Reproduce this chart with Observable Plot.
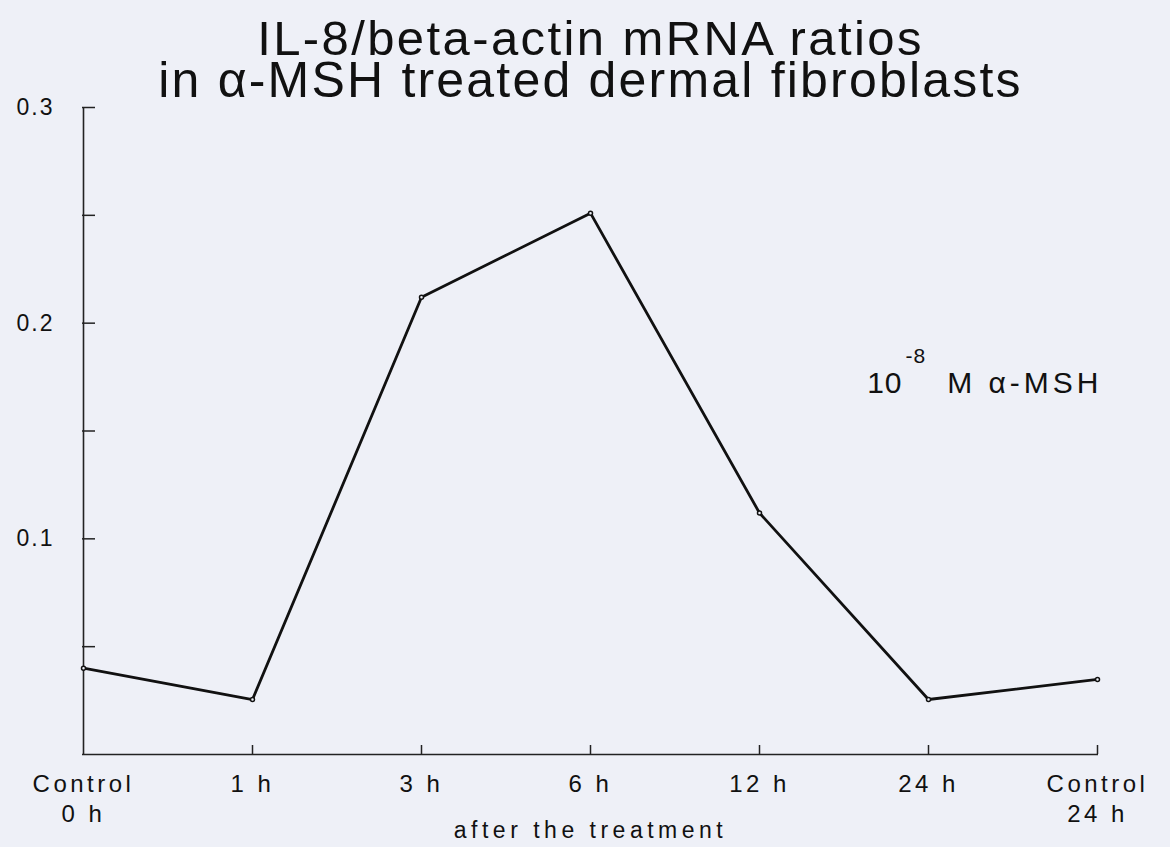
<!DOCTYPE html>
<html>
<head>
<meta charset="utf-8">
<script src="https://cdn.jsdelivr.net/npm/d3@7"></script>
<script src="https://cdn.jsdelivr.net/npm/@observablehq/plot@0.6"></script>
<style>
  html, body { margin: 0; padding: 0; background: #eef0f7; }
  #chart svg { display: block; background: #eef0f7; }
  g[aria-label="x-axis tick label"] text { letter-spacing: 3.5px; }
  g[aria-label="y-axis tick label"] text { letter-spacing: 2px; }
</style>
</head>
<body>
<div id="chart"></div>
<script>
const categories = ["Control\n0 h", "1 h", "3 h", "6 h", "12 h", "24 h", "Control\n24 h"];
const ratios = [0.040, 0.0255, 0.212, 0.251, 0.112, 0.0255, 0.0348];
const yTicks = [0.05, 0.1, 0.15, 0.2, 0.25, 0.3];
const yLabels = [0.1, 0.2, 0.3];
const titleLines = ["IL-8/beta-actin mRNA ratios", "in α-MSH treated dermal fibroblasts"];
const xAxisTitle = ["after the treatment"];
const legendBase = ["10"];
const legendExp = ["-8"];
const legendRest = ["M α-MSH"];

const data = categories.map((c, i) => ({time: c, ratio: ratios[i]}));

const chart = Plot.plot({
  width: 1170,
  height: 847,
  marginLeft: 82,
  marginRight: 72,
  marginTop: 107,
  marginBottom: 93,
  style: {fontFamily: "Liberation Sans, Arial, sans-serif", color: "#111", background: "#eef0f7"},
  x: {type: "point", domain: categories, padding: 0, label: null},
  y: {domain: [0, 0.3], label: null},
  marks: [
    Plot.ruleX([categories[0]], {stroke: "#222", strokeWidth: 1.6}),
    Plot.ruleY([0], {stroke: "#222", strokeWidth: 1.6}),
    Plot.axisY({ticks: yTicks, tickSize: -13, tickFormat: () => "", strokeWidth: 1.5, stroke: "#222", label: null}),
    Plot.axisY({ticks: yLabels, tickSize: 0, tickPadding: 28, tickFormat: d => d.toFixed(1), fontSize: 23, fill: "#111", label: null}),
    Plot.axisX({ticks: categories.slice(1), tickSize: -9, tickFormat: () => "", strokeWidth: 1.5, stroke: "#222", label: null}),
    Plot.axisX({tickSize: 0, tickPadding: 16, fontSize: 24, lineHeight: 1.25, fill: "#111", label: null}),
    Plot.line(data, {x: "time", y: "ratio", stroke: "#111", strokeWidth: 2.8, strokeLinejoin: "round"}),
    Plot.dot(data, {x: "time", y: "ratio", r: 2, stroke: "#111", strokeWidth: 1.5, fill: "#eef0f7"}),
    Plot.text([titleLines[0]], {frameAnchor: "top", dy: -53, lineAnchor: "bottom", fontSize: 49, fill: "#111"}),
    Plot.text([titleLines[1]], {frameAnchor: "top", dy: -11, lineAnchor: "bottom", fontSize: 50, fill: "#111"}),
    Plot.text(xAxisTitle, {frameAnchor: "bottom", dy: 83, lineAnchor: "bottom", fontSize: 23, fill: "#111"}),
    Plot.text(legendBase, {frameAnchor: "top-right", dx: -196, dy: 285, textAnchor: "end", lineAnchor: "bottom", fontSize: 30, fill: "#111"}),
    Plot.text(legendExp, {frameAnchor: "top-right", dx: -193, dy: 255, textAnchor: "start", lineAnchor: "bottom", fontSize: 21, fill: "#111"}),
    Plot.text(legendRest, {frameAnchor: "top-right", dx: 4, dy: 285, textAnchor: "end", lineAnchor: "bottom", fontSize: 30, fill: "#111"})
  ]
});
const spacing = new Map([
  [titleLines[0], "2.4px"],
  [titleLines[1], "2.2px"],
  [xAxisTitle[0], "4.5px"],
  [legendRest[0], "4px"],
  [legendBase[0], "1px"],
  [legendExp[0], "1px"]
]);
d3.select(chart).selectAll("text").each(function() {
  const s = spacing.get(this.textContent);
  if (s) d3.select(this).style("letter-spacing", s);
});
document.getElementById("chart").appendChild(chart);
</script>
</body>
</html>
